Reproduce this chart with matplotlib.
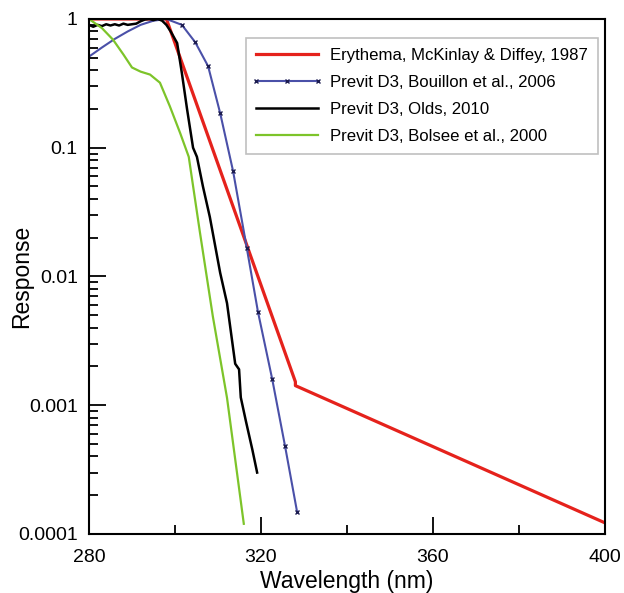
import matplotlib
matplotlib.use("Agg")
import matplotlib.pyplot as plt
from matplotlib.lines import Line2D
from matplotlib.legend_handler import HandlerLine2D
from matplotlib.ticker import FixedLocator, FixedFormatter, LogLocator, MultipleLocator

plt.rcParams['font.family'] = ['Liberation Sans', 'DejaVu Sans']

# action spectra (wavelength in nm, relative response)
ery_wl = [280, 298, 328, 328, 400]
ery_resp = [1.0, 1.0, 0.00152, 0.00142, 0.000122]

bou_wl = [280, 283, 286, 289, 292, 295, 298, 301.6, 304.7, 307.7, 310.5, 313.5,
          316.7, 319.3, 322.6, 325.6, 328.4]
bou_resp = [0.51, 0.6, 0.7, 0.8, 0.9, 0.97, 1.0, 0.9, 0.66, 0.43, 0.186, 0.066,
            0.0166, 0.0053, 0.0016, 0.00048, 0.000148]

olds_wl = [280, 281, 282, 283, 284, 285, 286, 287, 288, 289, 290, 291, 292, 293,
           294, 295, 296, 297, 298, 299, 300.5, 301.6, 302.8, 304.2, 305.1, 306.5,
           308.1, 310.5, 312.1, 314.0, 314.9, 315.3, 316.5, 318, 319.1]
olds_resp = [0.9, 0.87, 0.9, 0.88, 0.91, 0.89, 0.91, 0.89, 0.92, 0.9, 0.91, 0.92,
             0.96, 0.99, 1.0, 0.98, 1.0, 0.97, 0.9, 0.8, 0.65, 0.38, 0.2, 0.1,
             0.085, 0.05, 0.029, 0.0107, 0.0062, 0.0021, 0.0019, 0.00115,
             0.00075, 0.00045, 0.0003]

bol_wl = [280, 283, 285.6, 288, 290, 292, 294.2, 296.5, 298.8, 301.2, 303.2,
          305.8, 308.8, 312.1, 316]
bol_resp = [1.0, 0.85, 0.69, 0.53, 0.42, 0.39, 0.37, 0.32, 0.21, 0.13, 0.085,
            0.022, 0.0049, 0.00114, 0.00012]

fig = plt.figure(figsize=(6.24, 5.93), dpi=100)
ax = fig.add_axes([0.1426, 0.0995, 0.827, 0.8685])

ax.plot(ery_wl, ery_resp, color='#e5221c', lw=2.3,
        label='Erythema, McKinlay & Diffey, 1987')
ax.plot(bou_wl, bou_resp, color='#4a50a8', lw=1.5, marker='x', ms=3,
        mec='#1c1c50', mew=1.0, markevery=list(range(7, len(bou_wl))),
        label='Previt D3, Bouillon et al., 2006')
ax.plot(olds_wl, olds_resp, color='black', lw=1.8,
        label='Previt D3, Olds, 2010')
ax.plot(bol_wl, bol_resp, color='#7dc42a', lw=1.6,
        label='Previt D3, Bolsee et al., 2000')

ax.set_yscale('log')
ax.set_xlim(280, 400)
ax.set_ylim(1e-4, 1)

ax.xaxis.set_major_locator(MultipleLocator(40))
ax.xaxis.set_minor_locator(MultipleLocator(20))
ax.yaxis.set_major_locator(FixedLocator([1e-4, 1e-3, 1e-2, 1e-1, 1]))
ax.yaxis.set_major_formatter(FixedFormatter(['0.0001', '0.001', '0.01', '0.1', '1']))
ax.yaxis.set_minor_locator(LogLocator(base=10, subs=range(2, 10)))

ax.tick_params(which='both', direction='in', top=False, right=False,
               width=1.3, labelsize=14)
ax.tick_params(axis='y', which='major', length=12, pad=8)
ax.tick_params(axis='x', which='major', length=12, pad=11)
ax.tick_params(which='minor', length=6.5, labelleft=False)

for s in ax.spines.values():
    s.set_linewidth(1.5)

ax.set_xlabel('Wavelength (nm)', fontsize=16.5, labelpad=3)
ax.set_ylabel('Response', fontsize=16.5)
ax.yaxis.set_label_coords(-0.109, 0.5)

leg = ax.legend(loc='upper right', bbox_to_anchor=(0.986, 0.964),
                borderaxespad=0, fontsize=12.1, handlelength=3.7,
                handletextpad=0.7, labelspacing=0.72, borderpad=0.6,
                numpoints=3, fancybox=False, framealpha=1,
                handler_map={Line2D: HandlerLine2D(marker_pad=0)})
leg.get_frame().set_edgecolor('#c0c0c0')
leg.get_frame().set_linewidth(1.2)

fig.savefig('out.png', dpi=100)
